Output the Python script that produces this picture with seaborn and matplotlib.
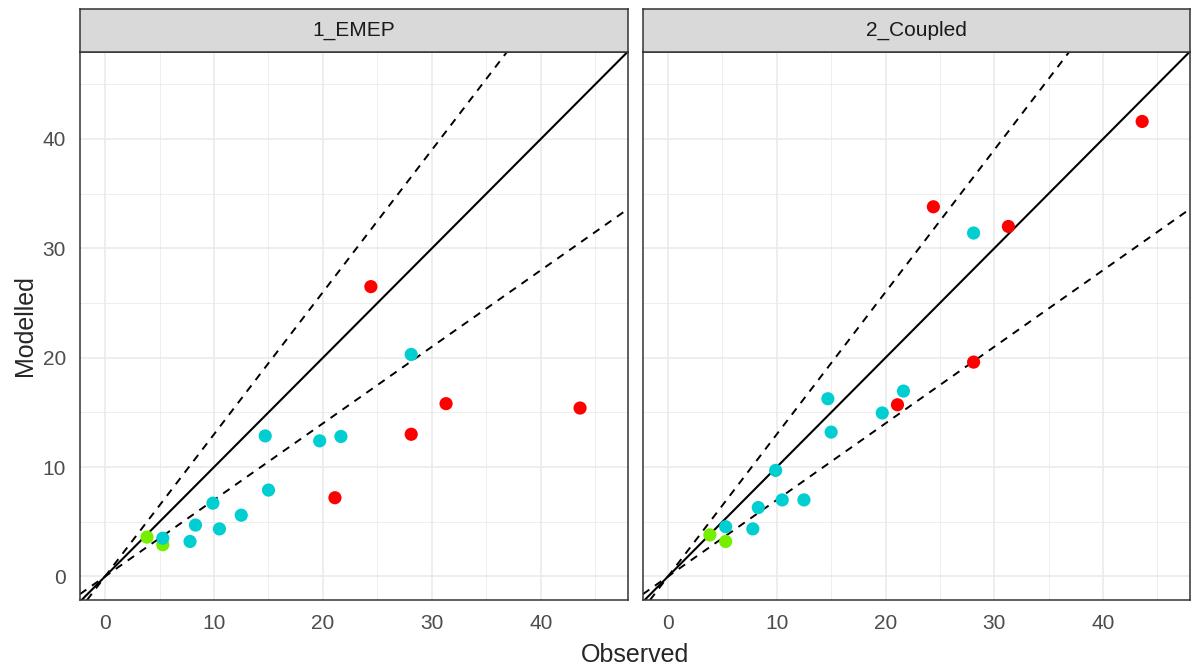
import matplotlib
matplotlib.use("Agg")
import matplotlib.pyplot as plt
import seaborn as sns
import pandas as pd

# ---- data ----
observed = [3.85, 5.3, 5.3, 7.8, 8.3, 9.9, 10.5, 12.5, 14.7, 15.0, 19.7, 21.65,
            28.1, 24.4, 21.1, 28.1, 31.3, 43.6]
emep = [3.6, 2.9, 3.5, 3.2, 4.7, 6.7, 4.35, 5.6, 12.85, 7.9, 12.4, 12.8,
        20.3, 26.5, 7.2, 13.0, 15.8, 15.4]
coupled = [3.8, 3.2, 4.55, 4.35, 6.3, 9.7, 7.0, 7.0, 16.25, 13.2, 14.95, 16.95,
           31.4, 33.8, 15.7, 19.6, 32.0, 41.6]
group = ["C", "C", "B", "B", "B", "B", "B", "B", "B", "B", "B", "B",
         "B", "A", "A", "A", "A", "A"]
panels = ["1_EMEP", "2_Coupled"]
palette = {"A": "#FF0000", "B": "#00CED1", "C": "#76EE00"}
x_ticks = [0, 10, 20, 30, 40]
y_ticks = [0, 10, 20, 30, 40]
slopes_dashed = [1.3, 0.7]

rows = []
for i in range(len(observed)):
    rows.append({"Observed": observed[i], "Modelled": emep[i], "group": group[i], "panel": panels[0]})
for i in range(len(observed)):
    rows.append({"Observed": observed[i], "Modelled": coupled[i], "group": group[i], "panel": panels[1]})
df = pd.DataFrame(rows)

sns.set_style("white")
plt.rcParams["font.family"] = ["Liberation Sans", "DejaVu Sans"]

W, H = 1191, 668
fig = plt.figure(figsize=(W / 100, H / 100), dpi=100)

panel_px = [(80, 628), (643, 1190)]
top_px, bot_px = 52, 600
strip_top = 9

for k, (l, r) in enumerate(panel_px):
    ax = fig.add_axes([l / W, 1 - bot_px / H, (r - l) / W, (bot_px - top_px) / H])
    sub = df[df["panel"] == panels[k]]
    sns.scatterplot(data=sub, x="Observed", y="Modelled", hue="group", palette=palette,
                    s=90, linewidth=0, legend=False, ax=ax, zorder=3)
    ax.axline((0, 0), slope=1, color="black", lw=1.5, zorder=2)
    for s in slopes_dashed:
        ax.axline((0, 0), slope=s, color="black", lw=1.4, ls=(0, (4, 3.5)), zorder=2)
    ax.set_xlim(-2.3, 48)
    ax.set_ylim(-2.15, 47.95)
    ax.set_xticks(x_ticks)
    ax.set_yticks(y_ticks)
    ax.set_xticks([-5 + 10 * j for j in range(1, 6)], minor=True)
    ax.set_yticks([-5 + 10 * j for j in range(1, 6)], minor=True)
    ax.grid(True, which="major", color="#EBEBEB", lw=1.2, zorder=0)
    ax.grid(True, which="minor", color="#EBEBEB", lw=0.6, zorder=0)
    ax.set_axisbelow(True)
    ax.set_xlabel("")
    ax.set_ylabel("")
    for sp in ax.spines.values():
        sp.set_color("#333333")
        sp.set_linewidth(1.1)
    ax.tick_params(axis="both", which="major", length=6, width=1.1, color="#333333",
                   labelsize=15, labelcolor="#4D4D4D", pad=4)
    ax.tick_params(axis="both", which="minor", length=0)
    if k == 1:
        ax.tick_params(axis="y", which="both", left=False, labelleft=False)
    # strip
    sax = fig.add_axes([l / W, 1 - top_px / H, (r - l) / W, (top_px - strip_top) / H])
    sax.set_xticks([])
    sax.set_yticks([])
    sax.set_facecolor("#D9D9D9")
    for sp in sax.spines.values():
        sp.set_color("#333333")
        sp.set_linewidth(1.1)
    sax.text(0.5, 0.5, panels[k], ha="center", va="center", fontsize=15,
             color="#1A1A1A", transform=sax.transAxes)

fig.text(635 / W, 1 - 655 / H, "Observed", ha="center", va="center", fontsize=18)
fig.text(25 / W, 1 - 326 / H, "Modelled", ha="center", va="center", fontsize=18,
         rotation=90)

fig.savefig("out.png", dpi=100, facecolor="white")
